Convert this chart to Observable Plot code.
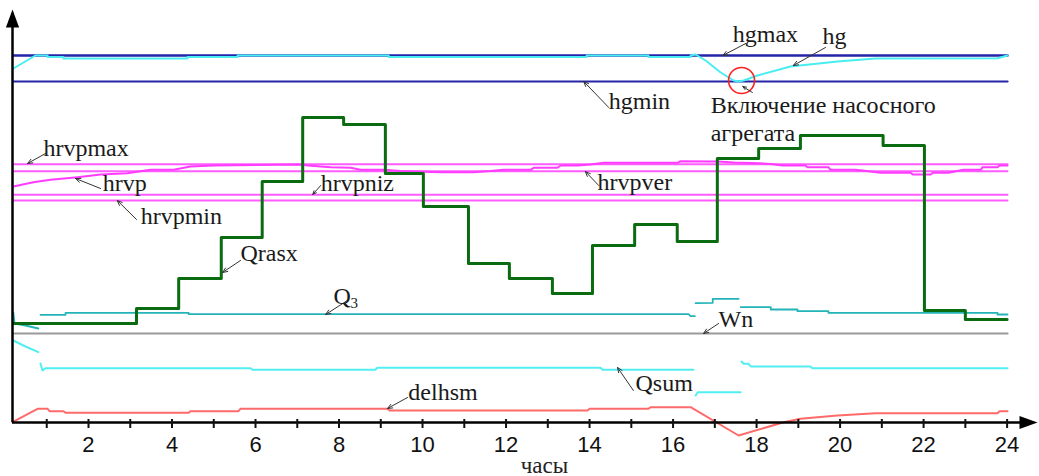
<!DOCTYPE html>
<html>
<head>
<meta charset="utf-8">
<script src="https://cdn.jsdelivr.net/npm/d3@7"></script>
<script src="https://cdn.jsdelivr.net/npm/@observablehq/plot@0.6"></script>
<style>
  html, body { margin: 0; padding: 0; background: #fff; }
  #chart svg { display: block; }
</style>
</head>
<body>
<div id="chart"></div>
<script>
// ---- data (time in hours, values in chart units) ----
const tickHours = d3.range(1, 25);
const tickLabels = [2, 4, 6, 8, 10, 12, 14, 16, 18, 20, 22, 24];

const hgmaxLevel = 36.7;
const hgminLevel = 34.1;
const hrvpmaxLevel = 25.82;
const hrvpverLevel = 25.13;
const hrvpnizLevel = 22.77;
const hrvpminLevel = 22.2;
const wnLevel = 8.9;
const seriesStart = 0.2;
const seriesEnd = 24.01;

const hgT = [0.2, 0.73, 1.02, 1.02, 1.40, 1.40, 4.37, 4.37, 5.57, 5.57, 9.19, 9.19, 13.93, 13.93, 15.41, 15.41, 16.42, 16.42, 16.54, 16.78, 17.14, 17.45, 17.57, 17.69, 18.02, 18.81, 19.94, 20.85, 23.77, 24.01];
const hgV = [35.4, 36.7, 36.7, 36.55, 36.55, 36.4, 36.4, 36.55, 36.55, 36.7, 36.7, 36.55, 36.55, 36.7, 36.7, 36.55, 36.55, 36.7, 36.8, 36.2, 35.0, 34.2, 34.1, 34.2, 34.7, 35.6, 36.1, 36.4, 36.42, 36.7];

const hrvpT = [0.20, 0.68, 1.09, 1.74, 2.29, 2.93, 3.49, 4.04, 4.44, 4.99, 7.08, 7.25, 7.80, 8.28, 8.51, 9.07, 9.47, 10.43, 11.22, 11.63, 11.94, 12.59, 12.66, 13.23, 13.31, 13.71, 14.02, 14.34, 16.11, 16.18, 17.07, 17.45, 18.05, 18.34, 18.62, 19.17, 19.22, 19.72, 19.77, 20.37, 20.68, 20.97, 21.69, 21.74, 22.17, 22.22, 22.60, 22.77, 22.96, 23.37, 23.41, 23.77, 23.82, 24.01];
const hrvpV = [23.6, 24.03, 24.27, 24.53, 24.8, 24.93, 25.27, 25.27, 25.6, 25.7, 25.8, 25.7, 25.53, 25.47, 25.27, 25.27, 25.15, 25.03, 25.03, 25.15, 25.27, 25.27, 25.47, 25.47, 25.7, 25.7, 25.8, 25.97, 25.97, 26.13, 26.1, 26.0, 25.93, 25.85, 25.7, 25.7, 25.53, 25.53, 25.27, 25.27, 25.13, 24.97, 24.97, 24.8, 24.8, 24.97, 24.97, 25.13, 25.27, 25.27, 25.53, 25.53, 25.7, 25.7];

const qrasxT = [0.2, 3.15, 4.16, 5.18, 6.16, 7.13, 8.11, 9.11, 10.02, 11.1, 12.08, 13.11, 14.07, 15.08, 16.1, 17.06, 18.05, 19.05, 21.03, 22.02, 23.0, 24.0];
const qrasxV = [9.9, 11.4, 14.4, 18.5, 24.1, 30.5, 29.8, 24.9, 21.6, 15.9, 14.4, 12.9, 17.7, 19.8, 18.1, 26.4, 27.4, 28.7, 27.7, 11.2, 10.3, 10.3];

const q3T = [0.2, 0.23, 0.49, 0.80, 0.82, 0.85, 1.45, 1.45, 4.4, 4.4, 16.37, 16.42, 16.52, 16.53, 16.54, 16.95, 16.95, 17.57, 17.6, 17.62, 18.34, 18.34, 18.98, 18.98, 19.72, 19.72, 23.77, 23.77, 24.01];
const q3V = [11.0, 9.9, 9.7, 9.4, NaN, 10.77, 10.77, 10.97, 10.97, 10.83, 10.83, 10.63, 10.63, NaN, 11.93, 11.97, 12.37, 12.37, NaN, 11.53, 11.53, 11.3, 11.3, 11.13, 11.13, 10.97, 10.97, 10.8, 10.8];

const qsumT = [0.2, 0.49, 0.80, 0.82, 0.85, 0.90, 0.97, 5.88, 5.93, 8.87, 8.92, 14.26, 14.31, 16.49, 16.52, 16.54, 16.59, 17.62, 17.63, 17.64, 17.69, 17.81, 17.86, 19.29, 19.34, 24.01];
const qsumV = [8.2, 7.6, 7.03, NaN, 5.9, 5.2, 5.43, 5.43, 5.27, 5.27, 5.47, 5.47, 5.27, 5.27, NaN, 2.7, 3.03, 3.03, NaN, 6.1, 5.87, 5.87, 5.6, 5.6, 5.43, 5.43];

const delhsmT = [0.18, 0.78, 1.02, 1.07, 1.40, 1.45, 4.4, 4.44, 5.59, 5.64, 9.16, 9.21, 13.95, 14.0, 15.41, 15.46, 16.42, 17.57, 18.65, 19.05, 19.94, 20.85, 23.77, 23.82, 24.01];
const delhsmV = [0.03, 1.37, 1.37, 1.13, 1.13, 0.97, 0.97, 1.13, 1.13, 1.37, 1.37, 1.2, 1.2, 1.37, 1.37, 1.53, 1.53, -1.3, 0.03, 0.37, 0.7, 0.93, 0.93, 1.13, 1.13];

// annotation labels and leader arrows
const labelText = ["hgmax", "hg", "hgmin", "Включение насосного", "агрегата", "hrvpmax", "hrvp", "hrvpmin", "hrvpniz", "hrvpver", "Qrasx", "Q", "Wn", "Qsum", "delhsm"];
const labelT = [17.43, 19.58, 14.46, 16.9, 16.9, 0.92, 2.34, 3.25, 7.56, 14.19, 5.64, 7.87, 17.09, 15.1, 9.66];
const labelV = [38.8, 38.6, 32.1, 31.7, 28.9, 27.4, 23.9, 20.6, 23.9, 24.0, 16.9, 12.6, 10.3, 3.9, 3.0];
const arrowFromT = [17.74, 19.65, 14.46, 17.9, 0.97, 2.29, 3.15, 7.56, 14.22, 5.64, 8.2, 17.09, 15.05, 9.64];
const arrowFromV = [37.9, 37.5, 31.5, 33.0, 26.9, 23.4, 20.3, 23.7, 23.7, 16.2, 12.2, 9.9, 3.2, 2.5];
const arrowToT = [17.19, 18.88, 13.86, 17.67, 0.54, 1.69, 2.69, 7.37, 13.9, 5.21, 7.68, 16.73, 14.67, 9.16];
const arrowToV = [36.7, 35.7, 34.1, 33.6, 25.9, 24.4, 22.2, 22.8, 25.1, 15.0, 10.8, 8.9, 5.5, 1.4];
const pumpOnT = 17.64;
const pumpOnV = 34.2;

// ---- helpers ----
const zipTV = (T, V) => T.map((t, i) => ({t, v: V[i]}));
const xDomain = [0.18, 24.68];
const yDomain = [-1.8, 41.3];

const arrowHead = {
  draw(context, size) {
    const r = Math.sqrt(size / Math.PI);
    context.moveTo(0, -1.5 * r);
    context.lineTo(1.1 * r, 1.5 * r);
    context.lineTo(-1.1 * r, 1.5 * r);
    context.closePath();
  }
};

const serif = "Liberation Serif, Times New Roman, serif";
const sans = "Liberation Sans, Arial, sans-serif";

const labels = labelText.map((text, i) => ({text, t: labelT[i], v: labelV[i]}));
const arrows = arrowFromT.map((t, i) => ({t1: t, v1: arrowFromV[i], t2: arrowToT[i], v2: arrowToV[i]}));

const levelLine = (level, stroke, strokeWidth) =>
  Plot.line([{t: seriesStart, v: level}, {t: seriesEnd, v: level}], {x: "t", y: "v", stroke, strokeWidth});

const chart = Plot.plot({
  width: 1039,
  height: 476,
  marginLeft: 12,
  marginRight: 4,
  marginTop: 9,
  marginBottom: 36,
  x: {domain: xDomain, axis: null},
  y: {domain: yDomain, axis: null},
  style: {background: "#fff", overflow: "visible"},
  marks: [
    // hg levels
    levelLine(hgmaxLevel, "#2424a8", 2.4),
    levelLine(hgminLevel, "#2424a8", 2.2),
    Plot.line(zipTV(hgT, hgV), {x: "t", y: "v", stroke: "#48eef2", strokeWidth: 2}),
    // hrvp levels
    levelLine(hrvpmaxLevel, "#ff5cff", 2),
    levelLine(hrvpverLevel, "#ff5cff", 2),
    levelLine(hrvpnizLevel, "#ff5cff", 2),
    levelLine(hrvpminLevel, "#ff5cff", 2),
    Plot.line(zipTV(hrvpT, hrvpV), {x: "t", y: "v", stroke: "#ff3cff", strokeWidth: 2}),
    // flows
    levelLine(wnLevel, "#9a9a9a", 2.2),
    Plot.line(zipTV(q3T, q3V), {x: "t", y: "v", stroke: "#22b4b8", strokeWidth: 1.8}),
    Plot.line(zipTV(qsumT, qsumV), {x: "t", y: "v", stroke: "#52eef2", strokeWidth: 2}),
    Plot.line(zipTV(delhsmT, delhsmV), {x: "t", y: "v", stroke: "#ff6a6a", strokeWidth: 2}),
    Plot.line(zipTV(qrasxT, qrasxV), {x: "t", y: "v", curve: "step-after", stroke: "#0b6b10", strokeWidth: 3}),
    // axes
    Plot.ruleX([xDomain[0]], {y1: yDomain[1], y2: 0, insetTop: 9, stroke: "#000", strokeWidth: 2.5}),
    Plot.ruleY([0], {x1: xDomain[0], x2: xDomain[1], insetRight: 9, stroke: "#000", strokeWidth: 2.5}),
    Plot.dot([xDomain[0]], {x: d => d, y: () => yDomain[1], dy: 9, r: 6, symbol: arrowHead, fill: "#000", stroke: "none"}),
    Plot.dot([xDomain[1]], {x: d => d, y: () => 0, dx: -7, r: 6, rotate: 90, symbol: arrowHead, fill: "#000", stroke: "none"}),
    Plot.ruleX(tickHours, {x: d => d, y1: 0, y2: 0, insetTop: -3, insetBottom: -6, stroke: "#111", strokeWidth: 2}),
    Plot.text(tickLabels, {x: d => d, y: () => 0, dy: 22, text: d => String(d), fontFamily: sans, fontSize: 22, fill: "#111"}),
    Plot.text(["часы"], {x: () => 12.92, y: () => 0, dy: 43, text: d => d, fontFamily: serif, fontSize: 23, fill: "#222"}),
    // annotations
    Plot.dot([{t: pumpOnT, v: pumpOnV}], {x: "t", y: "v", r: 13, stroke: "#ff2020", strokeWidth: 1.6, fill: "none"}),
    Plot.arrow(arrows, {x1: "t1", y1: "v1", x2: "t2", y2: "v2", stroke: "#333", strokeWidth: 1, headLength: 8, headAngle: 45}),
    Plot.text(labels, {x: "t", y: "v", text: "text", textAnchor: "start", lineAnchor: "middle", fontFamily: serif, fontSize: 24, fill: "#1a1a1a"}),
    Plot.text(labels.filter(d => d.text === "Q"), {x: "t", y: "v", text: () => "3", dx: 17, dy: 7, textAnchor: "start", lineAnchor: "middle", fontFamily: serif, fontSize: 15, fill: "#1a1a1a"})
  ]
});

document.getElementById("chart").appendChild(chart);
</script>
</body>
</html>
